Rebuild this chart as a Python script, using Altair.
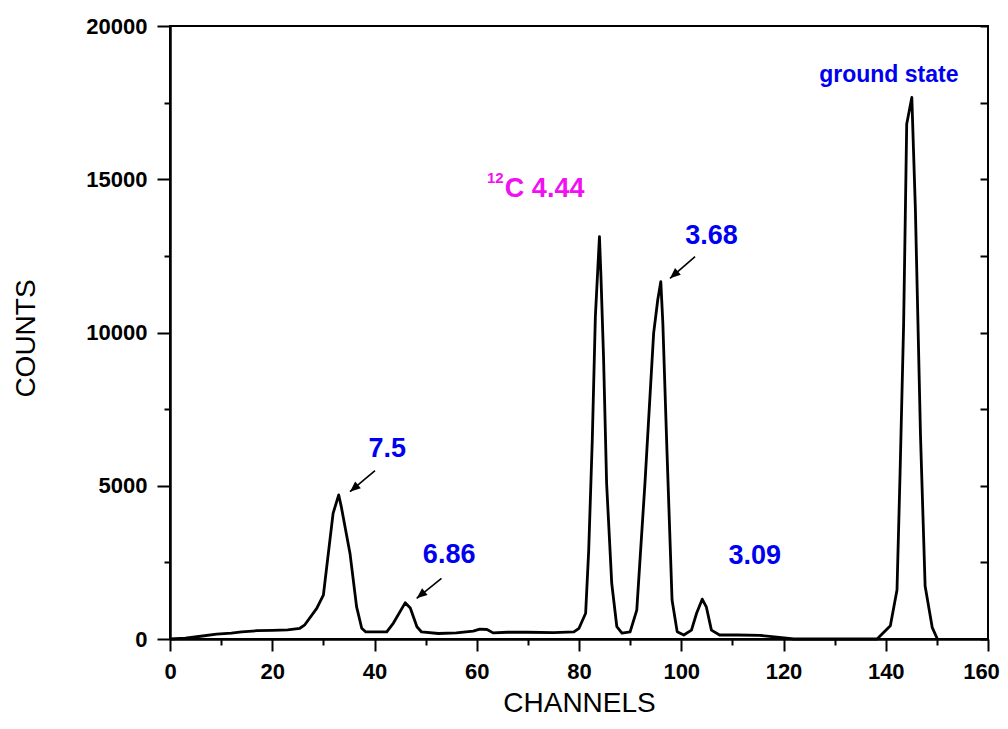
import altair as alt
import pandas as pd

# ---- spectrum ----
channels = [0, 3, 6, 9.1, 12, 14, 17, 20, 23, 25.4, 26.3, 28.7, 30, 31.9, 33, 33.5, 35.2, 36.5, 37.5, 38.3,
            42.4, 43.7, 46, 47, 48.3, 49.2, 52.5, 56, 59.3, 60.6, 62, 63.2, 66, 70, 75, 79, 80, 81.3, 81.9,
            82.6, 83.2, 84, 84.3, 84.8, 85.4, 86.4, 87.4, 88.4, 90, 91.3, 92.9, 94.6, 95.4, 96, 96.4, 97.2,
            98.2, 99.2, 100.5, 102, 103, 104.1, 104.9, 105.9, 107.5, 111, 115.4, 118.7, 122, 138.3, 140.9,
            142.2, 142.8, 143.5, 144.1, 145.1, 145.8, 146.8, 147.7, 149.1, 150.1]
counts = [0, 30, 90, 160, 190, 230, 270, 280, 300, 350, 450, 1000, 1430, 4100, 4700, 4320, 2800, 1050, 350, 230,
          230, 520, 1180, 1010, 400, 230, 180, 200, 260, 320, 310, 200, 220, 220, 210, 230, 350, 840, 2900,
          6500, 10520, 13130, 11800, 9200, 5080, 1820, 400, 190, 230, 940, 5080, 9980, 11060, 11660, 10300, 6170,
          1270, 240, 130, 290, 840, 1300, 1050, 290, 130, 130, 120, 60, 0, 0, 430,
          1600, 5400, 10300, 16800, 17670, 14000, 6620, 1730, 370, 0]

# ---- annotations ----
peak_labels = ["7.5", "6.86", "3.68", "3.09", "ground state"]
peak_label_x = [42.5, 54.6, 105.9, 114.4, 140.6]
peak_label_y = [5940, 2480, 12890, 2450, 18180]
peak_label_size = [27, 27, 27, 27, 23]

carbon_texts = ["12", "C 4.44"]
carbon_x = [62.0, 65.5]
carbon_y = [14880, 14420]
carbon_size = [15, 27]

arrow_x1 = [40.1, 53.1, 102.7]
arrow_y1 = [5491, 1980, 12473]
arrow_x2 = [35.2, 48.25, 97.8]
arrow_y2 = [4806, 1328, 11768]
arrow_angle = [230, 231, 229]

x_ticks = list(range(0, 161, 10))
y_ticks = list(range(0, 20001, 2500))

BLUE = "#0000F0"
MAGENTA = "#F010F0"
FONT = "Liberation Sans"

spec_df = pd.DataFrame({"ch": channels, "counts": counts})
lab_df = pd.DataFrame({"x": peak_label_x, "y": peak_label_y, "t": peak_labels, "s": peak_label_size})
c_df = pd.DataFrame({"x": carbon_x, "y": carbon_y, "t": carbon_texts, "s": carbon_size})
arr_df = pd.DataFrame({"x1": arrow_x1, "y1": arrow_y1, "x2": arrow_x2, "y2": arrow_y2, "a": arrow_angle})

XS = alt.Scale(domain=[0, 160], nice=False)
YS = alt.Scale(domain=[0, 20000], nice=False)

x_axis = alt.Axis(
    values=x_ticks, orient="bottom", title="CHANNELS",
    tickSize={"condition": {"test": "datum.value % 20 === 0", "value": 12}, "value": 6},
    labelExpr="datum.value % 20 === 0 ? datum.label : ''",
    labelOffset={"condition": {"test": "datum.value === 160", "value": -7}, "value": 0},
    labelPadding=10, labelFlush=False, labelOverlap=False,
    titleY=72, titleBaseline="alphabetic",
)
y_axis = alt.Axis(
    values=y_ticks, orient="left", title="COUNTS", format="d",
    tickSize={"condition": {"test": "datum.value % 5000 === 0", "value": 13}, "value": 6},
    labelExpr="datum.value % 5000 === 0 ? datum.label : ''",
    labelPadding=10, labelFlush=False, labelOverlap=False,
    titleAngle=-90, titleX=-136, titleY=312, titleAlign="center", titleBaseline="alphabetic",
)

line = alt.Chart(spec_df).mark_line(color="black", strokeWidth=2.8, strokeJoin="round").encode(
    x=alt.X("ch:Q", scale=XS, axis=x_axis),
    y=alt.Y("counts:Q", scale=YS, axis=y_axis),
)

arrows = alt.Chart(arr_df).mark_rule(color="black", strokeWidth=1.6).encode(
    x=alt.X("x1:Q", scale=XS, axis=None),
    y=alt.Y("y1:Q", scale=YS, axis=alt.Axis(orient="right", values=y_ticks, tickSize=8, offset=-8,
                                             domain=False, labels=False, title=None, grid=False)),
    x2="x2:Q",
    y2="y2:Q",
)

heads = alt.Chart(arr_df).mark_point(
    shape="M0,0 L-0.42,1 L0.42,1 Z", filled=True, color="black", opacity=1, size=440
).encode(
    x=alt.X("x2:Q", scale=XS, axis=None),
    y=alt.Y("y2:Q", scale=YS, axis=None),
    angle=alt.Angle("a:Q", scale=None),
)

labels = alt.Chart(lab_df).mark_text(
    font=FONT, fontWeight="bold", color=BLUE, align="center", baseline="alphabetic"
).encode(
    x=alt.X("x:Q", scale=XS, axis=None),
    y=alt.Y("y:Q", scale=YS, axis=None),
    text="t:N",
    size=alt.Size("s:Q", scale=None, legend=None),
)

carbon = alt.Chart(c_df).mark_text(
    font=FONT, fontWeight="bold", color=MAGENTA, align="left", baseline="alphabetic"
).encode(
    x=alt.X("x:Q", scale=XS, axis=None),
    y=alt.Y("y:Q", scale=YS, axis=None),
    text="t:N",
    size=alt.Size("s:Q", scale=None, legend=None),
)

chart = alt.layer(line, arrows, heads, labels, carbon).resolve_axis(
    x="independent", y="independent"
).properties(
    width=818, height=613,
    padding={"left": 162, "top": 18, "right": 12, "bottom": 82},
    autosize=alt.AutoSizeParams(type="none"),
).configure_axis(
    labelFont=FONT, labelFontWeight="bold", labelFontSize=22, labelColor="black",
    titleFont=FONT, titleFontWeight="normal", titleFontSize=28, titleColor="black",
    domainColor="black", domainWidth=2.5, tickColor="black", tickWidth=2, grid=False,
).configure_view(stroke="black", strokeWidth=2)

chart.save("out.html", embed_options={"renderer": "svg", "actions": False})
